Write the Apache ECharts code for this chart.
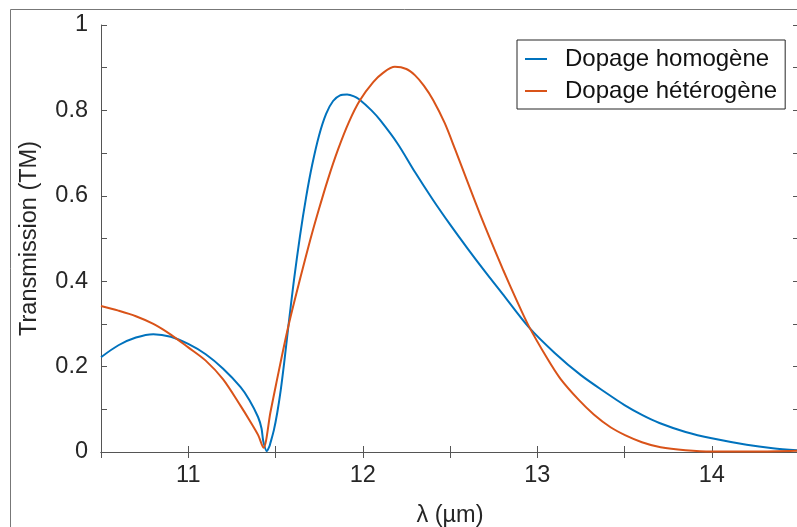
<!DOCTYPE html>
<html>
<head>
<meta charset="utf-8">
<script src="https://cdn.jsdelivr.net/npm/echarts@6/dist/echarts.min.js"></script>
<style>
  html, body { margin: 0; padding: 0; background: #fff; }
  #chart { width: 797px; height: 527px; }
</style>
</head>
<body>
<div id="chart"></div>
<script>
// Dopage homogene (blue)
var lambdaHomo = [10.5, 10.6, 10.7, 10.8, 10.9, 11.0, 11.1, 11.2, 11.3, 11.35, 11.4, 11.42, 11.43, 11.45,
  11.465, 11.47, 11.49, 11.51, 11.53, 11.55, 11.571, 11.605, 11.64, 11.676, 11.71, 11.75, 11.79, 11.83, 11.87,
  11.91, 11.95, 11.979, 12.05, 12.1, 12.2, 12.3, 12.4, 12.5, 12.6, 12.7, 12.8, 12.95, 13.1, 13.25, 13.4,
  13.5, 13.6, 13.7, 13.85, 14.0, 14.2, 14.35, 14.5];
var transHomo = [0.222, 0.250, 0.268, 0.276, 0.270, 0.253, 0.229, 0.195, 0.152, 0.122, 0.082, 0.055, 0.025, 0.002,
  0.013, 0.020, 0.050, 0.092, 0.145, 0.210, 0.285, 0.400, 0.505, 0.598, 0.672, 0.742, 0.792, 0.822, 0.835,
  0.837, 0.833, 0.826, 0.800, 0.777, 0.722, 0.655, 0.592, 0.533, 0.477, 0.423, 0.371, 0.293, 0.232, 0.180, 0.137,
  0.110, 0.087, 0.068, 0.047, 0.032, 0.017, 0.009, 0.004];

// Dopage heterogene (orange)
var lambdaHetero = [10.5, 10.6, 10.7, 10.8, 10.9, 11.0, 11.1, 11.2, 11.3, 11.35, 11.4, 11.431, 11.471, 11.504,
  11.571, 11.645, 11.7, 11.747, 11.8, 11.858, 11.92, 11.983, 12.06, 12.12, 12.184, 12.25, 12.3, 12.35, 12.404,
  12.47, 12.53, 12.6, 12.672, 12.74, 12.806, 12.88, 12.95, 13.056, 13.132, 13.238, 13.324, 13.42, 13.506,
  13.6, 13.707, 13.85, 14.0, 14.25, 14.5];
var transHetero = [0.342, 0.331, 0.318, 0.300, 0.275, 0.245, 0.214, 0.170, 0.108, 0.075, 0.040, 0.010, 0.093, 0.160,
  0.290, 0.412, 0.498, 0.566, 0.638, 0.708, 0.772, 0.823, 0.866, 0.889, 0.902, 0.897, 0.882, 0.858, 0.824,
  0.770, 0.708, 0.633, 0.557, 0.489, 0.425, 0.357, 0.296, 0.220, 0.172, 0.122, 0.088, 0.058, 0.039,
  0.023, 0.011, 0.004, 0.001, 0.001, 0.003];

var seriesNames = ['Dopage homogène', 'Dopage hétérogène'];
var xTicks = [11, 12, 13, 14];

function zip(xs, ys) {
  var out = [];
  for (var i = 0; i < xs.length; i++) out.push([xs[i], ys[i]]);
  return out;
}

var font = 'Liberation Sans, Arial, Helvetica, sans-serif';
var axisColor = '#555';
var textColor = '#262626';
var labelSize = 23.5;

var myChart = echarts.init(document.getElementById('chart'));
var option = {
  animation: false,
  backgroundColor: '#fff',
  textStyle: { fontFamily: font },
  graphic: [{
    type: 'rect',
    shape: { x: 10.5, y: 9.5, width: 820, height: 560 },
    style: { fill: 'none', stroke: '#777', lineWidth: 1 },
    z: -1
  }],
  grid: { left: 101, top: 25, right: -2, bottom: 75, outerBoundsMode: 'none', containLabel: false },
  legend: {
    orient: 'vertical',
    left: 517, top: 40,
    padding: [7, 8, 6, 8],
    icon: 'rect',
    itemWidth: 22, itemHeight: 2, itemGap: 8,
    borderColor: '#262626', borderWidth: 1,
    backgroundColor: '#fff',
    textStyle: { fontSize: 24, lineHeight: 24, color: '#111', fontFamily: font, padding: [0, 0, 0, 13] },
    data: seriesNames
  },
  xAxis: [{
    type: 'value', min: 10.5, max: 14.5, interval: 0.5,
    name: 'λ (µm)', nameLocation: 'middle', nameGap: 52,
    nameTextStyle: { fontSize: labelSize, color: textColor },
    axisLine: { lineStyle: { color: axisColor } },
    axisTick: { inside: true, length: 6, lineStyle: { color: axisColor } },
    axisLabel: {
      margin: 12, fontSize: labelSize, color: textColor,
      formatter: function (v) { return xTicks.indexOf(v) >= 0 ? String(v) : ''; }
    },
    splitLine: { show: false }
  }, {
    type: 'value', min: 10.5, max: 14.5, interval: 0.5, position: 'top',
    axisLine: { lineStyle: { color: axisColor } },
    axisTick: { inside: true, length: 6, lineStyle: { color: axisColor } },
    axisLabel: { show: false }, splitLine: { show: false }
  }],
  yAxis: [{
    type: 'value', min: 0, max: 1, interval: 0.1,
    name: 'Transmission (TM)', nameLocation: 'middle', nameGap: 59,
    nameTextStyle: { fontSize: labelSize, color: textColor },
    axisLine: { show: true, lineStyle: { color: axisColor } },
    axisTick: { show: true, inside: true, length: 6, lineStyle: { color: axisColor } },
    axisLabel: {
      margin: 13, fontSize: labelSize, color: textColor,
      formatter: function (v) {
        var k = Math.round(v * 10);
        if (k % 2 !== 0) return '';
        if (k === 0) return '0';
        if (k === 10) return '1';
        return (k / 10).toFixed(1);
      }
    },
    splitLine: { show: false }
  }, {
    type: 'value', min: 0, max: 1, interval: 0.1, position: 'right',
    axisLine: { show: true, lineStyle: { color: axisColor } },
    axisTick: { show: true, inside: true, length: 6, lineStyle: { color: axisColor } },
    axisLabel: { show: false }, splitLine: { show: false }
  }],
  series: [{
    name: seriesNames[0], type: 'line', smooth: 0.3, symbol: 'none',
    lineStyle: { color: '#0072BD', width: 2 }, itemStyle: { color: '#0072BD' },
    data: zip(lambdaHomo, transHomo)
  }, {
    name: seriesNames[1], type: 'line', smooth: 0.3, symbol: 'none',
    lineStyle: { color: '#D95319', width: 2 }, itemStyle: { color: '#D95319' },
    data: zip(lambdaHetero, transHetero)
  }]
};
myChart.setOption(option);
</script>
</body>
</html>
